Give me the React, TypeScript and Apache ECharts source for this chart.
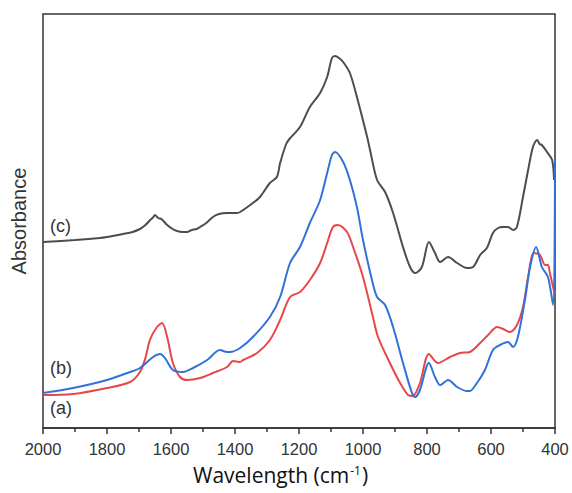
import React, { useEffect, useRef } from "react";
import * as echarts from "echarts";

const xTicks = [2000, 1800, 1600, 1400, 1200, 1000, 800, 600, 400];

const curveC: [number, number][] = [
  [2000, 186], [1900, 188], [1822, 190], [1800, 191], [1750, 194], [1720, 196], [1697, 199], [1680, 203],
  [1665, 208], [1655, 211], [1650, 213], [1640, 210], [1630, 209], [1612, 203], [1595, 199],
  [1581, 197], [1565, 196], [1550, 196], [1535, 198], [1520, 199], [1509, 201], [1490, 205],
  [1469, 211], [1450, 214], [1425, 215], [1410, 215], [1394, 215], [1384, 216], [1344, 225],
  [1322, 231], [1291, 245], [1269, 251], [1259, 265], [1240, 284], [1230, 289], [1197, 301],
  [1166, 321], [1134, 335], [1112, 351], [1097, 370], [1087, 372], [1075, 370], [1062, 366],
  [1041, 355], [1019, 331], [987, 291], [978, 278], [956, 248], [931, 236], [906, 215],
  [875, 181], [853, 161], [837, 155], [816, 161], [794, 186], [775, 175], [759, 166],
  [734, 171], [706, 165], [675, 160], [656, 161], [634, 173], [613, 180], [594, 195],
  [578, 200], [562, 201], [547, 201], [531, 198], [519, 201], [500, 231], [484, 258],
  [469, 281], [456, 288], [448, 284], [441, 283], [425, 276], [409, 268], [403, 248],
];

const curveA: [number, number][] = [
  [2000, 33], [1906, 34], [1800, 40], [1728, 46], [1697, 56], [1680, 70], [1666, 88],
  [1644, 101], [1628, 105], [1612, 91], [1594, 65], [1572, 51], [1550, 48], [1509, 50],
  [1469, 55], [1425, 61], [1406, 67], [1384, 66], [1375, 68], [1331, 75], [1291, 88],
  [1259, 108], [1228, 131], [1197, 136], [1166, 148], [1134, 165], [1112, 185], [1094, 201],
  [1078, 203], [1050, 196], [1031, 181], [1000, 151], [969, 111], [953, 91], [916, 65],
  [884, 45], [859, 33], [844, 32], [822, 45], [794, 74], [766, 65], [728, 71], [697, 75],
  [666, 76], [634, 85], [609, 93], [581, 101], [562, 99], [541, 96], [519, 103], [500, 121],
  [484, 151], [466, 175], [447, 173], [431, 163], [422, 163], [416, 155], [406, 141], [401, 135],
];

const curveB: [number, number][] = [
  [2000, 35], [1906, 40], [1800, 48], [1728, 56], [1697, 60], [1656, 71], [1634, 74],
  [1619, 70], [1594, 58], [1562, 56], [1531, 60], [1487, 68], [1447, 78], [1425, 76],
  [1416, 76], [1384, 80], [1344, 91], [1291, 111], [1259, 131], [1228, 165], [1197, 181],
  [1166, 205], [1134, 228], [1112, 255], [1097, 273], [1087, 276], [1062, 266], [1041, 248],
  [1019, 221], [1000, 188], [972, 148], [956, 131], [931, 123], [906, 101], [875, 65],
  [847, 35], [837, 31], [822, 38], [794, 65], [775, 51], [759, 43], [734, 48], [706, 41],
  [675, 37], [666, 37], [644, 45], [619, 58], [594, 78], [572, 83], [547, 86], [531, 81],
  [516, 91], [494, 128], [478, 161], [459, 181], [441, 161], [422, 151], [406, 123], [400, 268],
];

const seriesNames = ["(c)", "(a)", "(b)"];
const seriesColors = ["#4d4d4d", "#e8474a", "#2f72d8"];

export default function App() {
  const ref = useRef<HTMLDivElement>(null);
  useEffect(() => {
    if (!ref.current) return;
    const chart = echarts.init(ref.current, undefined, { renderer: "svg" });
    const datas = [curveC, curveA, curveB];
    chart.setOption({
      animation: false,
      grid: {
        left: 43, right: 17, top: 14, bottom: 65,
        show: true, borderColor: "#333", borderWidth: 1.5, backgroundColor: "transparent",
      },
      xAxis: {
        type: "value", min: 400, max: 2000, interval: 200, inverse: true,
        axisLine: { show: true, lineStyle: { color: "#333", width: 1.5 } },
        axisTick: { show: true, length: 6, inside: false, lineStyle: { color: "#333", width: 1.5 } },
        minorTick: { show: true, splitNumber: 2, length: 4, lineStyle: { color: "#333", width: 1.5 } },
        splitLine: { show: false },
        axisLabel: {
          margin: 12, color: "#333", fontSize: 16.5, fontFamily: "Liberation Sans",
          formatter: (v: number) => (xTicks.includes(v) ? String(v) : ""),
        },
      },
      yAxis: {
        type: "value", min: 0, max: 414, show: true,
        axisLine: { show: false }, axisTick: { show: false }, axisLabel: { show: false },
        splitLine: { show: false },
        name: "Absorbance", nameLocation: "middle", nameGap: 14,
        nameTextStyle: { color: "#333", fontSize: 20, fontFamily: "Liberation Sans" },
      },
      series: datas.map((d, i) => ({
        name: seriesNames[i],
        type: "line",
        data: d,
        showSymbol: false,
        smooth: 0.3,
        lineStyle: { color: seriesColors[i], width: 2 },
        z: i + 2,
      })),
      graphic: [
        { type: "text", left: 50, top: 217, style: { text: "(c)", fontSize: 18, fill: "#333", fontFamily: "Liberation Sans" } },
        { type: "text", left: 50, top: 359, style: { text: "(b)", fontSize: 18, fill: "#333", fontFamily: "Liberation Sans" } },
        { type: "text", left: 50, top: 399, style: { text: "(a)", fontSize: 18, fill: "#333", fontFamily: "Liberation Sans" } },
        {
          type: "text", left: 193, top: 464,
          style: {
            text: "Wavelength (cm{sup|-1})", fontSize: 21, fill: "#111", fontFamily: "Open Sans",
            rich: { sup: { fontSize: 12, fill: "#111", fontFamily: "Open Sans", verticalAlign: "top", padding: [0, 1, 9, 1] } },
          },
        },
      ],
    });
    return () => chart.dispose();
  }, []);
  return <div ref={ref} style={{ width: 572, height: 493, position: "absolute", left: 0, top: 0 }} />;
}
